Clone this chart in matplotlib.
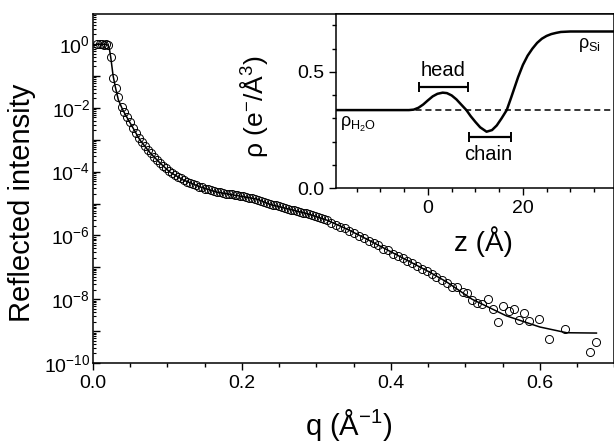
import matplotlib
matplotlib.use('Agg')
import matplotlib.pyplot as plt
from matplotlib.ticker import FixedLocator, MultipleLocator, FuncFormatter
import numpy as np

matplotlib.rcParams['font.family'] = 'Liberation Sans'
matplotlib.rcParams['mathtext.fontset'] = 'custom'
matplotlib.rcParams['mathtext.rm'] = 'Liberation Sans'
matplotlib.rcParams['mathtext.it'] = 'Liberation Sans:italic'
matplotlib.rcParams['mathtext.default'] = 'regular'

# measured reflectivity, log10(R) vs q (1/A)
q_data = [0.006, 0.009, 0.012, 0.015, 0.018, 0.020, 0.024, 0.027, 0.031, 0.034, 0.039,
          0.042, 0.046, 0.050, 0.054, 0.058, 0.062, 0.066, 0.070, 0.074, 0.078,
          0.082, 0.086, 0.090, 0.094, 0.098, 0.102, 0.106, 0.110, 0.114, 0.118,
          0.122, 0.126, 0.130, 0.134, 0.138, 0.142, 0.146, 0.150, 0.154, 0.158,
          0.162, 0.166, 0.170, 0.174, 0.178, 0.182, 0.186, 0.190, 0.194, 0.198,
          0.202, 0.206, 0.210, 0.214, 0.218, 0.222, 0.226, 0.230, 0.234, 0.238,
          0.242, 0.246, 0.250, 0.254, 0.258, 0.262, 0.266, 0.270, 0.274, 0.278,
          0.282, 0.286, 0.290, 0.294, 0.298, 0.302, 0.306, 0.310, 0.314,
          0.320, 0.326, 0.332, 0.338, 0.344, 0.351, 0.357, 0.364, 0.370, 0.377,
          0.383, 0.390, 0.396, 0.403, 0.409, 0.416, 0.422, 0.429, 0.435, 0.442,
          0.448, 0.455, 0.461,
          0.468, 0.475, 0.482, 0.489, 0.497, 0.502, 0.509, 0.515, 0.522, 0.530,
          0.537, 0.544, 0.550, 0.558, 0.565, 0.572, 0.579, 0.585, 0.599, 0.612,
          0.634, 0.668, 0.675]
logR_data = [0.00, -0.01, 0.01, -0.02, 0.00, -0.03, -0.41, -1.07, -1.38, -1.66, -1.97,
             -2.14, -2.30, -2.45, -2.64, -2.80, -2.94, -3.08, -3.20, -3.31, -3.43,
             -3.53, -3.63, -3.72, -3.81, -3.89, -3.97, -4.04, -4.10, -4.16, -4.21,
             -4.26, -4.31, -4.35, -4.40, -4.43, -4.47, -4.49, -4.53, -4.55, -4.58,
             -4.61, -4.63, -4.65, -4.66, -4.69, -4.70, -4.71, -4.74, -4.74, -4.77,
             -4.77, -4.80, -4.82, -4.84, -4.85, -4.88, -4.91, -4.95, -4.99, -5.01,
             -5.05, -5.06, -5.09, -5.11, -5.14, -5.16, -5.19, -5.20, -5.24, -5.25,
             -5.29, -5.30, -5.33, -5.36, -5.38, -5.42, -5.44, -5.48, -5.52,
             -5.60, -5.66, -5.73, -5.77, -5.85, -5.92, -6.01, -6.08, -6.16, -6.24,
             -6.31, -6.41, -6.47, -6.57, -6.63, -6.72, -6.79, -6.87, -6.95, -7.04,
             -7.11, -7.20, -7.29,
             -7.40, -7.49, -7.62, -7.62, -7.77, -7.81, -8.03, -8.12, -8.15, -7.99,
             -8.31, -8.71, -8.21, -8.37, -8.31, -8.65, -8.43, -8.68, -8.62, -9.25,
             -8.93, -9.66, -9.34]

# fitted reflectivity
q_fit = [0.005, 0.015, 0.020, 0.022, 0.024, 0.027, 0.030, 0.034, 0.040, 0.050,
         0.063, 0.077, 0.090, 0.103, 0.121, 0.144, 0.166, 0.193, 0.220, 0.238,
         0.264, 0.291, 0.314, 0.341, 0.368, 0.399, 0.426, 0.452, 0.475, 0.509,
         0.555, 0.600, 0.636, 0.676]
logR_fit = [0.00, -0.01, -0.03, -0.15, -0.45, -1.00, -1.35, -1.75, -2.07, -2.48,
            -3.01, -3.42, -3.73, -4.01, -4.26, -4.48, -4.64, -4.75, -4.86, -5.03,
            -5.18, -5.34, -5.52, -5.80, -6.12, -6.50, -6.83, -7.15, -7.46, -8.00,
            -8.52, -8.87, -9.05, -9.06]

# electron density profile (inset)
z_prof = [-19.5, -4.0, -3.0, -2.0, -1.0, 0.0, 1.0, 2.0, 3.1, 4.0, 5.0, 6.0, 7.0,
          8.1, 9.0, 10.0, 11.0, 12.35, 13.5, 14.5, 15.5, 16.6, 17.5, 18.3, 19.0,
          20.0, 21.0, 22.0, 23.0, 24.0, 25.0, 26.0, 27.0, 28.0, 30.0, 39.5]
rho_prof = [0.336, 0.336, 0.338, 0.346, 0.360, 0.378, 0.395, 0.406, 0.411, 0.409,
            0.399, 0.382, 0.360, 0.336, 0.310, 0.285, 0.262, 0.243, 0.250, 0.270,
            0.300, 0.336, 0.388, 0.436, 0.478, 0.530, 0.570, 0.600, 0.625, 0.643,
            0.655, 0.663, 0.668, 0.672, 0.674, 0.674]
rho_water = 0.336
head_z = [-1.9, 8.4]
head_rho = 0.435
chain_z = [8.6, 17.5]
chain_rho = 0.22

fig = plt.figure(figsize=(6.14, 4.46), dpi=100)
ax = fig.add_axes([0.1515, 0.186, 0.849, 0.7825])

ax.semilogy(q_fit, 10 ** np.array(logR_fit), color='black', lw=1.1, zorder=3)
ax.semilogy(q_data, 10 ** np.array(logR_data), 'o', ms=5.8, mfc='none', mec='black',
            mew=0.7, zorder=2)

ax.set_xlim(0, 0.7)
ax.set_ylim(1e-10, 10 ** 0.94)
ax.xaxis.set_major_locator(MultipleLocator(0.2))
ax.xaxis.set_minor_locator(MultipleLocator(0.05))
ax.xaxis.set_major_formatter(FuncFormatter(lambda v, p: '%.1f' % v))
ax.yaxis.set_major_locator(FixedLocator([10.0 ** k for k in range(-10, 1)]))
minors = [m * 10.0 ** k for k in range(-10, 1) for m in range(2, 10)]
ax.yaxis.set_minor_locator(FixedLocator(minors))
ax.yaxis.set_major_formatter(FuncFormatter(
    lambda v, p: '$10^{%d}$' % round(np.log10(v)) if round(np.log10(v)) % 2 == 0 else ''))
ax.tick_params(axis='x', which='major', direction='out', length=5, width=1, labelsize=14)
ax.tick_params(axis='x', which='minor', direction='out', length=3, width=1)
ax.tick_params(axis='y', which='major', direction='in', length=5, width=1, labelsize=14,
               pad=2)
ax.tick_params(axis='y', which='minor', direction='in', length=2.5, width=0.8)
for s in ax.spines.values():
    s.set_linewidth(1.1)
ax.set_xlabel('q (Å$^{-1}$)', fontsize=21)
ax.set_ylabel('Reflected intensity', fontsize=21)
ax.xaxis.set_label_coords(0.49, -0.125)
ax.yaxis.set_label_coords(-0.11, 0.46)

# inset: density profile
ins = fig.add_axes([0.547, 0.578, 0.453, 0.391])
ins.plot(z_prof, rho_prof, color='black', lw=1.8, zorder=3)
ins.axhline(rho_water, color='black', lw=1.1, ls=(0, (4, 2.5)), zorder=2)
ins.errorbar([sum(head_z) / 2], [head_rho], xerr=[(head_z[1] - head_z[0]) / 2],
             fmt='none', ecolor='black', elinewidth=1.6, capsize=3.5, capthick=1.4)
ins.errorbar([sum(chain_z) / 2], [chain_rho], xerr=[(chain_z[1] - chain_z[0]) / 2],
             fmt='none', ecolor='black', elinewidth=1.6, capsize=3.5, capthick=1.4)
ins.text(sum(head_z) / 2, head_rho + 0.03, 'head', ha='center', va='bottom', fontsize=14.5)
ins.text(sum(chain_z) / 2 - 0.4, chain_rho - 0.035, 'chain', ha='center', va='top',
         fontsize=14.5)
ins.text(-18.5, rho_water - 0.02, 'ρ$_{H_2O}$', ha='left', va='top', fontsize=13)
ins.text(36.5, 0.655, 'ρ$_{Si}$', ha='right', va='top', fontsize=13)

ins.set_xlim(-19.4, 39.2)
ins.set_ylim(0, 0.75)
ins.xaxis.set_major_locator(MultipleLocator(20))
ins.xaxis.set_minor_locator(MultipleLocator(5))
ins.yaxis.set_major_locator(MultipleLocator(0.5))
ins.yaxis.set_minor_locator(MultipleLocator(0.1))
ins.yaxis.set_major_formatter(FuncFormatter(lambda v, p: '%.1f' % v))
ins.tick_params(which='major', direction='out', length=5, width=1, labelsize=14)
ins.tick_params(which='minor', direction='out', length=3, width=1)
for s in ins.spines.values():
    s.set_linewidth(1.1)
ins.set_xlabel('z (Å)', fontsize=20)
ins.set_ylabel('ρ (e$^{-}$/Å$^{3}$)', fontsize=19)
ins.xaxis.set_label_coords(0.532, -0.22)
ins.yaxis.set_label_coords(-0.235, 0.47)

fig.savefig('out.png', dpi=100)
